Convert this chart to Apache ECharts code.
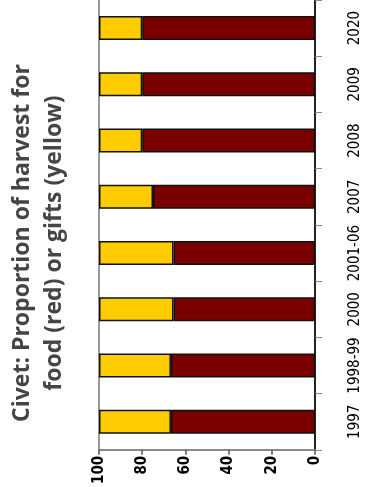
<!DOCTYPE html>
<html>
<head>
<meta charset="utf-8">
<script src="https://cdn.jsdelivr.net/npm/echarts@6/dist/echarts.min.js"></script>
<style>html,body{margin:0;padding:0;background:#fff;}#c{width:369px;height:487px;}</style>
</head>
<body>
<div id="c"></div>
<script>
var categories = ['1997', '1998-99', '2000', '2001-06', '2007', '2008', '2009', '2020'];
var foodRed = [66.7, 66.7, 65.5, 65.5, 75, 80, 80, 80];
var giftsYellow = [33.3, 33.3, 34.5, 34.5, 25, 20, 20, 20];
var valueTicks = [0, 20, 40, 60, 80, 100];
var titleLines = ['Civet: Proportion of harvest for', 'food (red) or gifts (yellow)'];

var narrow = "'Liberation Sans Narrow', 'DejaVu Sans Condensed', 'Arial Narrow', 'Liberation Sans', sans-serif";
var chart = echarts.init(document.getElementById('c'), null, {renderer: 'canvas'});
chart.setOption({
  animation: false,
  backgroundColor: '#ffffff',
  grid: {left: 99, right: 54, top: -3, bottom: 37, containLabel: false},
  graphic: [{
    type: 'text',
    x: 38, y: 243,
    rotation: Math.PI / 2,
    style: {
      text: titleLines.join('\n'),
      fontFamily: "'Open Sans', sans-serif",
      fontWeight: 'bold',
      fontSize: 23,
      lineHeight: 32,
      fill: '#454545',
      textAlign: 'center',
      textVerticalAlign: 'middle'
    }
  }],
  xAxis: {
    type: 'value',
    min: valueTicks[0], max: valueTicks[valueTicks.length - 1], interval: 20,
    inverse: true,
    position: 'bottom',
    axisLine: {show: true, lineStyle: {color: '#8a8a8a', width: 2}},
    axisTick: {show: true, length: 5, lineStyle: {color: '#555', width: 1.5}},
    axisLabel: {rotate: 90, fontFamily: narrow, fontWeight: 'bold', fontSize: 15, color: '#000', margin: 6},
    splitLine: {show: false}
  },
  yAxis: [{
    type: 'category',
    data: categories,
    position: 'right',
    axisLine: {show: true, lineStyle: {color: '#222', width: 2}},
    axisTick: {show: true, length: 7, lineStyle: {color: '#888', width: 1}},
    axisLabel: {rotate: 90, interval: 0, fontFamily: narrow, fontSize: 15, color: '#000', margin: 33},
    splitLine: {show: false}
  }, {
    type: 'category',
    data: categories,
    position: 'left',
    axisLine: {show: true, lineStyle: {color: '#999', width: 2}},
    axisTick: {show: false},
    axisLabel: {show: false},
    splitLine: {show: false}
  }],
  series: [{
    name: 'food',
    type: 'bar',
    stack: 'total',
    data: foodRed,
    barWidth: 24,
    itemStyle: {color: '#7a0000', borderColor: '#111', borderWidth: 1.5}
  }, {
    name: 'gifts',
    type: 'bar',
    stack: 'total',
    data: giftsYellow,
    barWidth: 24,
    itemStyle: {color: '#ffcc00', borderColor: '#111', borderWidth: 1.5}
  }]
});
</script>
</body>
</html>
